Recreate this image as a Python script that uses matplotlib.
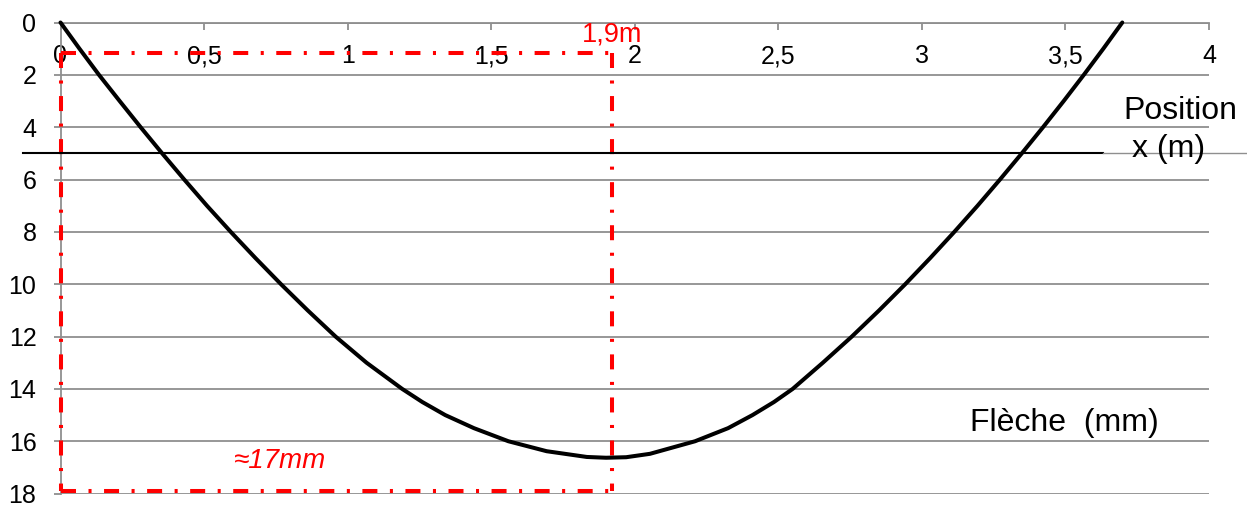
import matplotlib
matplotlib.use('Agg')
import matplotlib.pyplot as plt

plt.rcParams['font.family'] = ['Liberation Sans', 'DejaVu Sans']
plt.rcParams['lines.scale_dashes'] = False

# ---- data (position along the beam, deflection) ----
position_m = [0, 0.066, 0.134, 0.206, 0.279, 0.354, 0.431, 0.51, 0.593, 0.679,
              0.768, 0.861, 0.958, 1.066, 1.19, 1.26, 1.34, 1.44, 1.56, 1.693,
              1.833, 1.90, 1.97, 2.053, 2.21, 2.325, 2.41, 2.485, 2.55, 2.655,
              2.756, 2.851, 2.942, 3.029, 3.113, 3.194, 3.272, 3.348, 3.422, 3.494,
              3.564, 3.632, 3.698]
fleche_mm = [0, 1, 2, 3, 4, 5, 6, 7, 8, 9,
             10, 11, 12, 13, 14, 14.5, 15, 15.5, 16, 16.38,
             16.6, 16.63, 16.61, 16.48, 16, 15.5, 15, 14.5, 14, 13,
             12, 11, 10, 9, 8, 7, 6, 5, 4, 3,
             2, 1, 0]
x_ticks = [0, 0.5, 1, 1.5, 2, 2.5, 3, 3.5, 4]
x_tick_labels = ['0', '0,5', '1', '1,5', '2', '2,5', '3', '3,5', '4']
y_ticks = [0, 2, 4, 6, 8, 10, 12, 14, 16, 18]
x_max_pos = 1.92      # position of the maximum deflection (1,9 m)
y_box_top = 1.18      # red box top
y_box_bottom = 17.9   # red box bottom (~17 mm)
y_black_line = 5

GRAY = '#8f8f8f'
RED = '#ff0000'

W, H = 1247, 505
fig = plt.figure(figsize=(W / 100, H / 100), dpi=100)
left_px, right_px, top_px, bottom_px = 60.5, 1209, 22.5, 493.6
ax = fig.add_axes([left_px / W, 1 - bottom_px / H, (right_px - left_px) / W, (bottom_px - top_px) / H])

ax.set_xlim(0, 4)
ax.set_ylim(18, 0)

# grid
ax.set_yticks(y_ticks)
ax.set_yticklabels([str(v) for v in y_ticks])
ax.yaxis.grid(True, color=GRAY, lw=1.3)
ax.set_axisbelow(True)

for s in ['right', 'bottom']:
    ax.spines[s].set_visible(False)
for s in ['left', 'top']:
    ax.spines[s].set_color(GRAY)
    ax.spines[s].set_linewidth(1.3)

ax.set_xticks(x_ticks)
ax.set_xticklabels(x_tick_labels)
ax.xaxis.set_ticks_position('top')
ax.tick_params(axis='x', direction='in', length=5, width=1.3, color=GRAY,
               labelsize=18, pad=-33, top=True, bottom=False,
               labeltop=True, labelbottom=False)
ax.tick_params(axis='y', direction='out', length=5, width=1.3, color=GRAY,
               labelsize=18, pad=12.3)

# curve
ax.plot(position_m, fleche_mm, color='black', lw=2.9, solid_joinstyle='round',
        solid_capstyle='round', zorder=5, clip_on=False)

# black horizontal line at 5 mm
ax.axhline(y_black_line, xmin=-0.0327, xmax=0.9077, color='black', lw=1.5, clip_on=False, zorder=4)
ax.axhline(y_black_line, xmin=0.9077, xmax=1.04, color=GRAY, lw=1.0, clip_on=False, zorder=4)

# red dash-dot box
dd = (0, (10.8, 9, 2.2, 9))
red_kw = dict(color=RED, lw=2.9, linestyle=dd, clip_on=False, zorder=3)
ax.plot([0, x_max_pos], [y_box_top, y_box_top], **red_kw)
ax.plot([0, 0], [y_box_top, y_box_bottom], **red_kw)
ax.plot([x_max_pos, x_max_pos], [y_box_top, y_box_bottom], **red_kw)
ax.plot([0, x_max_pos], [y_box_bottom, y_box_bottom], **red_kw)

ax.text(x_max_pos, 0.72, '1,9m', color=RED, fontsize=19.5, ha='center', va='baseline')
ax.text(0.765, 17.02, '≈17mm', color=RED, fontsize=20, style='italic', ha='center', va='baseline')

fig.text(1180 / W, 1 - 119 / H, 'Position', fontsize=23, ha='center', va='baseline')
fig.text(1169 / W, 1 - 157 / H, 'x (m)', fontsize=23, ha='center', va='baseline')
fig.text(1064 / W, 1 - 430.7 / H, 'Flèche  (mm)', fontsize=23, ha='center', va='baseline')

fig.savefig('out.png', dpi=100)
